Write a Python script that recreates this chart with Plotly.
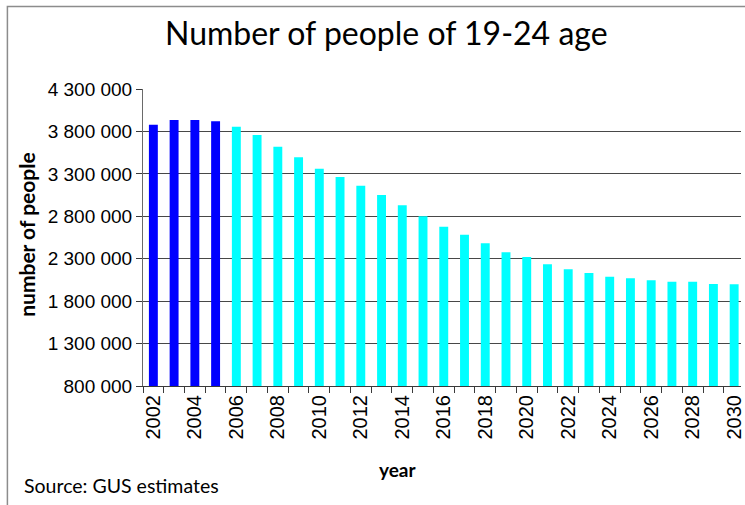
import plotly.graph_objects as go

# Population aged 19-24 in Poland: 2002-2005 actual, 2006-2030 projection
years = list(range(2002, 2031))
people = [
    3880000, 3936000, 3936000, 3921000, 3854000, 3757000, 3618000, 3497000,
    3360000, 3264000, 3159000, 3050000, 2930000, 2800000, 2677000, 2581000,
    2481000, 2377000, 2320000, 2236000, 2175000, 2131000, 2087000, 2070000,
    2046000, 2030000, 2030000, 2003000, 2000000,
]
last_actual_year = 2005
label_years = list(range(2002, 2031, 2))

bar_colors = ["#0000FF" if y <= last_actual_year else "#00FFFF" for y in years]

X_TICK_FONT = dict(family="Liberation Sans", size=20, color="#000000")
Y_TICK_FONT = dict(family="Liberation Sans", size=19, color="#000000")
TEXT_FAMILY = "Lato"
GRID = "#474747"
AXIS = "#3a3a3a"

fig = go.Figure(
    go.Bar(
        x=years,
        y=people,
        width=0.43,
        marker=dict(color=bar_colors, line=dict(width=0)),
        hoverinfo="x+y",
    )
)

W, H = 745, 505
L, R, T, B = 143, 0, 89, 119

fig.update_layout(
    width=W,
    height=H,
    margin=dict(l=L, r=R, t=T, b=B, pad=0),
    paper_bgcolor="white",
    plot_bgcolor="white",
    showlegend=False,
    separators=". ",
    xaxis=dict(
        range=[2001.5, 2030.33],
        tickmode="array",
        tickvals=label_years,
        ticktext=[str(y) for y in label_years],
        tickangle=-90,
        tickfont=X_TICK_FONT,
        ticklabeloverflow="allow",
        ticks="outside",
        ticklen=0,
        showgrid=False,
        showline=True,
        linecolor=AXIS,
        linewidth=1,
        zeroline=False,
        minor=dict(
            tick0=2001.5,
            dtick=1,
            ticks="outside",
            ticklen=6,
            tickcolor=AXIS,
            tickwidth=1,
            showgrid=False,
        ),
        fixedrange=True,
    ),
    yaxis=dict(
        range=[800000, 4300000],
        tick0=800000,
        dtick=500000,
        tickformat=",d",
        tickfont=Y_TICK_FONT,
        ticks="outside",
        ticklen=6,
        tickcolor=AXIS,
        showgrid=True,
        gridcolor=GRID,
        gridwidth=1,
        showline=True,
        linecolor="#6a6a6a",
        linewidth=1,
        zeroline=False,
        fixedrange=True,
    ),
)

# Outer frame of the chart panel
pw = W - L - R
ph = H - T - B
def px_x(v):
    return (v - L) / pw
def px_y(v):
    return (H - B - v) / ph

fig.add_shape(
    type="rect", xref="paper", yref="paper",
    x0=px_x(6.5), x1=px_x(W + 20), y0=px_y(H + 20), y1=px_y(6.5),
    line=dict(color="#8c8c8c", width=1.5), fillcolor="rgba(0,0,0,0)", layer="below",
)

fig.add_annotation(
    text="Number of people of 19-24 age",
    xref="paper", yref="paper", x=px_x(388), y=px_y(32),
    xanchor="center", yanchor="middle", showarrow=False,
    font=dict(family=TEXT_FAMILY, size=32, color="#000000"),
)
fig.add_annotation(
    text="<b>number of people</b>",
    xref="paper", yref="paper", x=px_x(25), y=px_y(234),
    xanchor="center", yanchor="middle", showarrow=False, textangle=-90,
    font=dict(family=TEXT_FAMILY, size=21, color="#000000"),
)
fig.add_annotation(
    text="<b>year</b>",
    xref="paper", yref="paper", x=px_x(400), y=px_y(469),
    xanchor="center", yanchor="middle", showarrow=False,
    font=dict(family=TEXT_FAMILY, size=19, color="#000000"),
)
fig.add_annotation(
    text="Source: GUS estimates",
    xref="paper", yref="paper", x=px_x(21), y=px_y(485),
    xanchor="left", yanchor="middle", showarrow=False,
    font=dict(family=TEXT_FAMILY, size=19.5, color="#000000"),
)

fig.write_html("out.html")
